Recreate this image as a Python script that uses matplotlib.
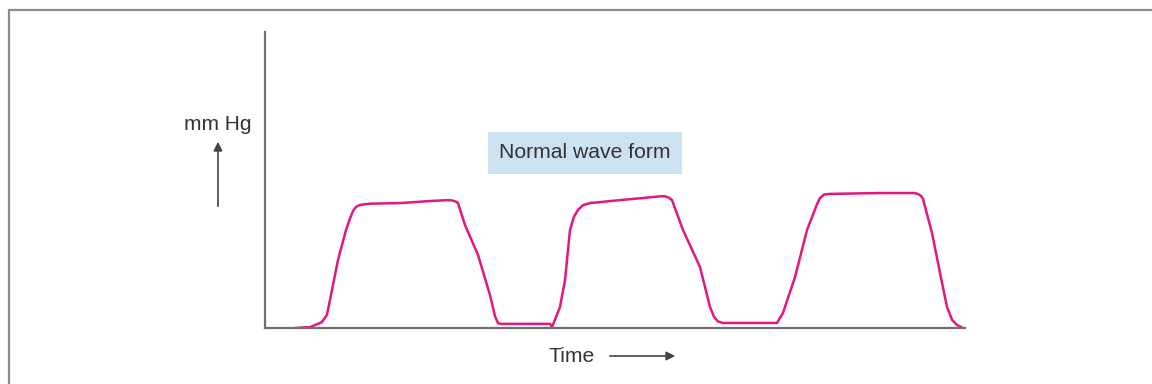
import matplotlib
matplotlib.use("Agg")
import matplotlib.pyplot as plt
from matplotlib.patches import Rectangle

plt.rcParams["font.family"] = ["Liberation Sans", "DejaVu Sans"]

# waveform (time in arbitrary units, pressure in % of axis height)
time = [3.0, 4.5, 5.7, 6.2, 6.5, 7.3, 8.1, 8.5, 8.8, 9.1, 9.5, 10.5, 13.5, 16.5, 18.3, 18.7,
        19.1, 19.3, 20.0, 21.3, 22.5, 23.0, 23.3, 23.6, 25.5, 28.5, 28.7, 29.5, 30.0,
        30.5, 30.9, 31.3, 31.8, 32.5, 35.5, 39.6, 40.0, 40.4, 40.7, 41.8, 43.5, 44.5,
        44.9, 45.3, 45.8, 47.5, 51.2, 51.8, 53.0, 54.2, 55.2, 55.5, 55.9, 56.5, 61.5,
        64.9, 65.3, 65.6, 65.8, 66.7, 67.5, 68.2, 68.7, 69.2, 69.8]
pressure = [0.0, 0.3, 2.0, 4.5, 9.5, 23.0, 33.1, 37.0, 39.5, 40.9, 41.6, 42.0, 42.2, 42.9,
            43.2, 43.1, 42.7, 42.2, 34.8, 24.7, 11.1, 4.0, 1.6, 1.4, 1.4, 1.4, 0.3, 7.1,
            16.2, 33.1, 37.6, 39.9, 41.5, 42.2, 43.2, 44.5, 44.5, 44.0, 43.2, 33.1, 20.6,
            7.1, 3.8, 2.2, 1.7, 1.7, 1.7, 5.1, 17.2, 33.1, 41.8, 43.9, 45.1, 45.3, 45.6,
            45.6, 45.3, 44.6, 43.6, 32.1, 18.6, 7.1, 2.8, 1.0, 0.0]

title = "Normal wave form"
ylabel = "mm Hg"
xlabel = "Time"

W, H = 1152, 384
fig = plt.figure(figsize=(W / 100, H / 100), dpi=100)

# outer frame of the figure box
fig.patches.append(Rectangle((9 / W, -0.2), 1.2, 1.2 - 10 / H, transform=fig.transFigure,
                             fill=False, edgecolor="#8c8c8c", linewidth=1.6))

ax = fig.add_axes([265 / W, 56 / H, 700 / W, 296 / H])
ax.plot(time, pressure, color="#e3177d", linewidth=1.8, solid_joinstyle="round",
        solid_capstyle="round")
ax.set_xlim(0, 70)
ax.set_ylim(0, 100)
ax.set_xticks([])
ax.set_yticks([])
for side in ["top", "right"]:
    ax.spines[side].set_visible(False)
for side in ["left", "bottom"]:
    ax.spines[side].set_color("#707070")
    ax.spines[side].set_linewidth(1.6)
ax.patch.set_alpha(0)

# labels
fig.text(585 / W, 1 - 153 / H, title, ha="center", va="center", fontsize=15.2, color="#333333",
         bbox=dict(boxstyle="square,pad=0.55", facecolor="#cde2f0", edgecolor="none"))
fig.text(218 / W, 1 - 124 / H, ylabel, ha="center", va="center", fontsize=15, color="#333333")
fig.text(572 / W, 1 - 357 / H, xlabel, ha="center", va="center", fontsize=15.2, color="#333333")

arrow = dict(arrowstyle="-|>", color="#444444", lw=1.2, mutation_scale=13)
plt.annotate("", xy=(218 / W, 1 - 139 / H), xytext=(218 / W, 1 - 209 / H),
             xycoords="figure fraction", arrowprops=arrow)
plt.annotate("", xy=(678 / W, 1 - 356 / H), xytext=(607 / W, 1 - 356 / H),
             xycoords="figure fraction", arrowprops=arrow)

fig.savefig("out.png", dpi=100)
